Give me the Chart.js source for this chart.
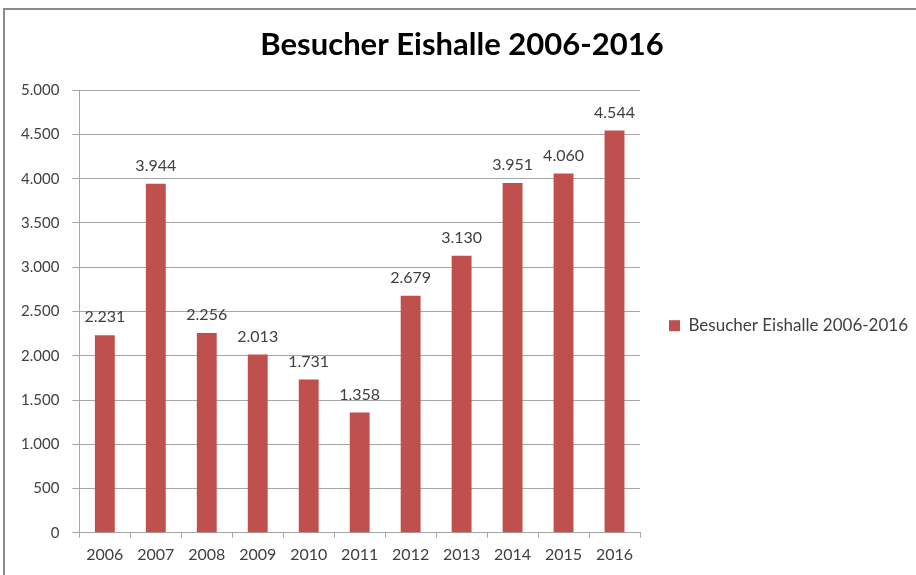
<!DOCTYPE html>
<html>
<head>
<meta charset="utf-8">
<script src="https://cdn.jsdelivr.net/npm/chart.js@4"></script>
<style>
  html, body { margin: 0; padding: 0; background: #fff; }
  #wrap { position: relative; width: 916px; height: 575px; overflow: hidden; }
  #frame {
    position: absolute; left: 3px; top: 8px; width: 920px; height: 580px;
    border-left: 2px solid #8a8a8a; border-top: 2px solid #8a8a8a;
    pointer-events: none;
  }
</style>
</head>
<body>
<div id="wrap">
  <canvas id="chart" width="916" height="575"></canvas>
  <div id="frame"></div>
</div>
<script>
const years = ['2006', '2007', '2008', '2009', '2010', '2011', '2012', '2013', '2014', '2015', '2016'];
const visitors = [2231, 3944, 2256, 2013, 1731, 1358, 2679, 3130, 3951, 4060, 4544];
const seriesName = 'Besucher Eishalle 2006-2016';
const chartTitle = 'Besucher Eishalle 2006-2016';

const barColor = '#c0504d';
const textColor = '#404040';
const gridColor = '#a6a6a6';
const fontFamily = 'Lato, "Open Sans", sans-serif';

// German number format: 2.231
function fmt(v) {
    return v.toLocaleString('de-DE');
}

// draws the value above every bar
const valueLabels = {
    id: 'valueLabels',
    afterDatasetsDraw(chart) {
        const ctx = chart.ctx;
        const meta = chart.getDatasetMeta(0);
        ctx.save();
        ctx.font = '16px ' + fontFamily;
        ctx.fillStyle = textColor;
        ctx.textAlign = 'center';
        ctx.textBaseline = 'bottom';
        meta.data.forEach((bar, i) => {
            ctx.fillText(fmt(visitors[i]), bar.x, bar.y - 10);
        });
        ctx.restore();
    }
};

new Chart(document.getElementById('chart'), {
    type: 'bar',
    data: {
        labels: years,
        datasets: [{
            label: seriesName,
            data: visitors,
            backgroundColor: barColor,
            borderWidth: 0,
            barPercentage: 0.39,
            categoryPercentage: 1
        }]
    },
    options: {
        responsive: false,
        animation: false,
        layout: { padding: { left: 8, right: 0, top: 0, bottom: 4 } },
        plugins: {
            title: {
                display: true,
                text: chartTitle,
                color: '#000',
                font: { family: fontFamily, size: 31, weight: 'bold' },
                padding: { top: 26, bottom: 27 }
            },
            legend: {
                position: 'right',
                maxWidth: 276,
                // empty title only pushes the entry down a bit
                title: { display: true, text: '', padding: { top: 66, bottom: 0 } },
                labels: {
                    boxWidth: 11,
                    boxHeight: 11,
                    color: textColor,
                    font: { family: fontFamily, size: 17 },
                    padding: 29
                }
            },
            tooltip: { enabled: false }
        },
        scales: {
            x: {
                grid: {
                    offset: true,
                    drawOnChartArea: false,
                    color: gridColor,
                    tickLength: 5
                },
                border: { color: gridColor },
                ticks: {
                    color: textColor,
                    font: { family: fontFamily, size: 16 },
                    padding: 7
                }
            },
            y: {
                min: 0,
                max: 5000,
                grid: { color: gridColor, tickLength: 7 },
                border: { color: gridColor },
                ticks: {
                    stepSize: 500,
                    color: textColor,
                    font: { family: fontFamily, size: 15 },
                    padding: 13,
                    callback: v => fmt(v)
                }
            }
        }
    },
    plugins: [valueLabels]
});
</script>
</body>
</html>
